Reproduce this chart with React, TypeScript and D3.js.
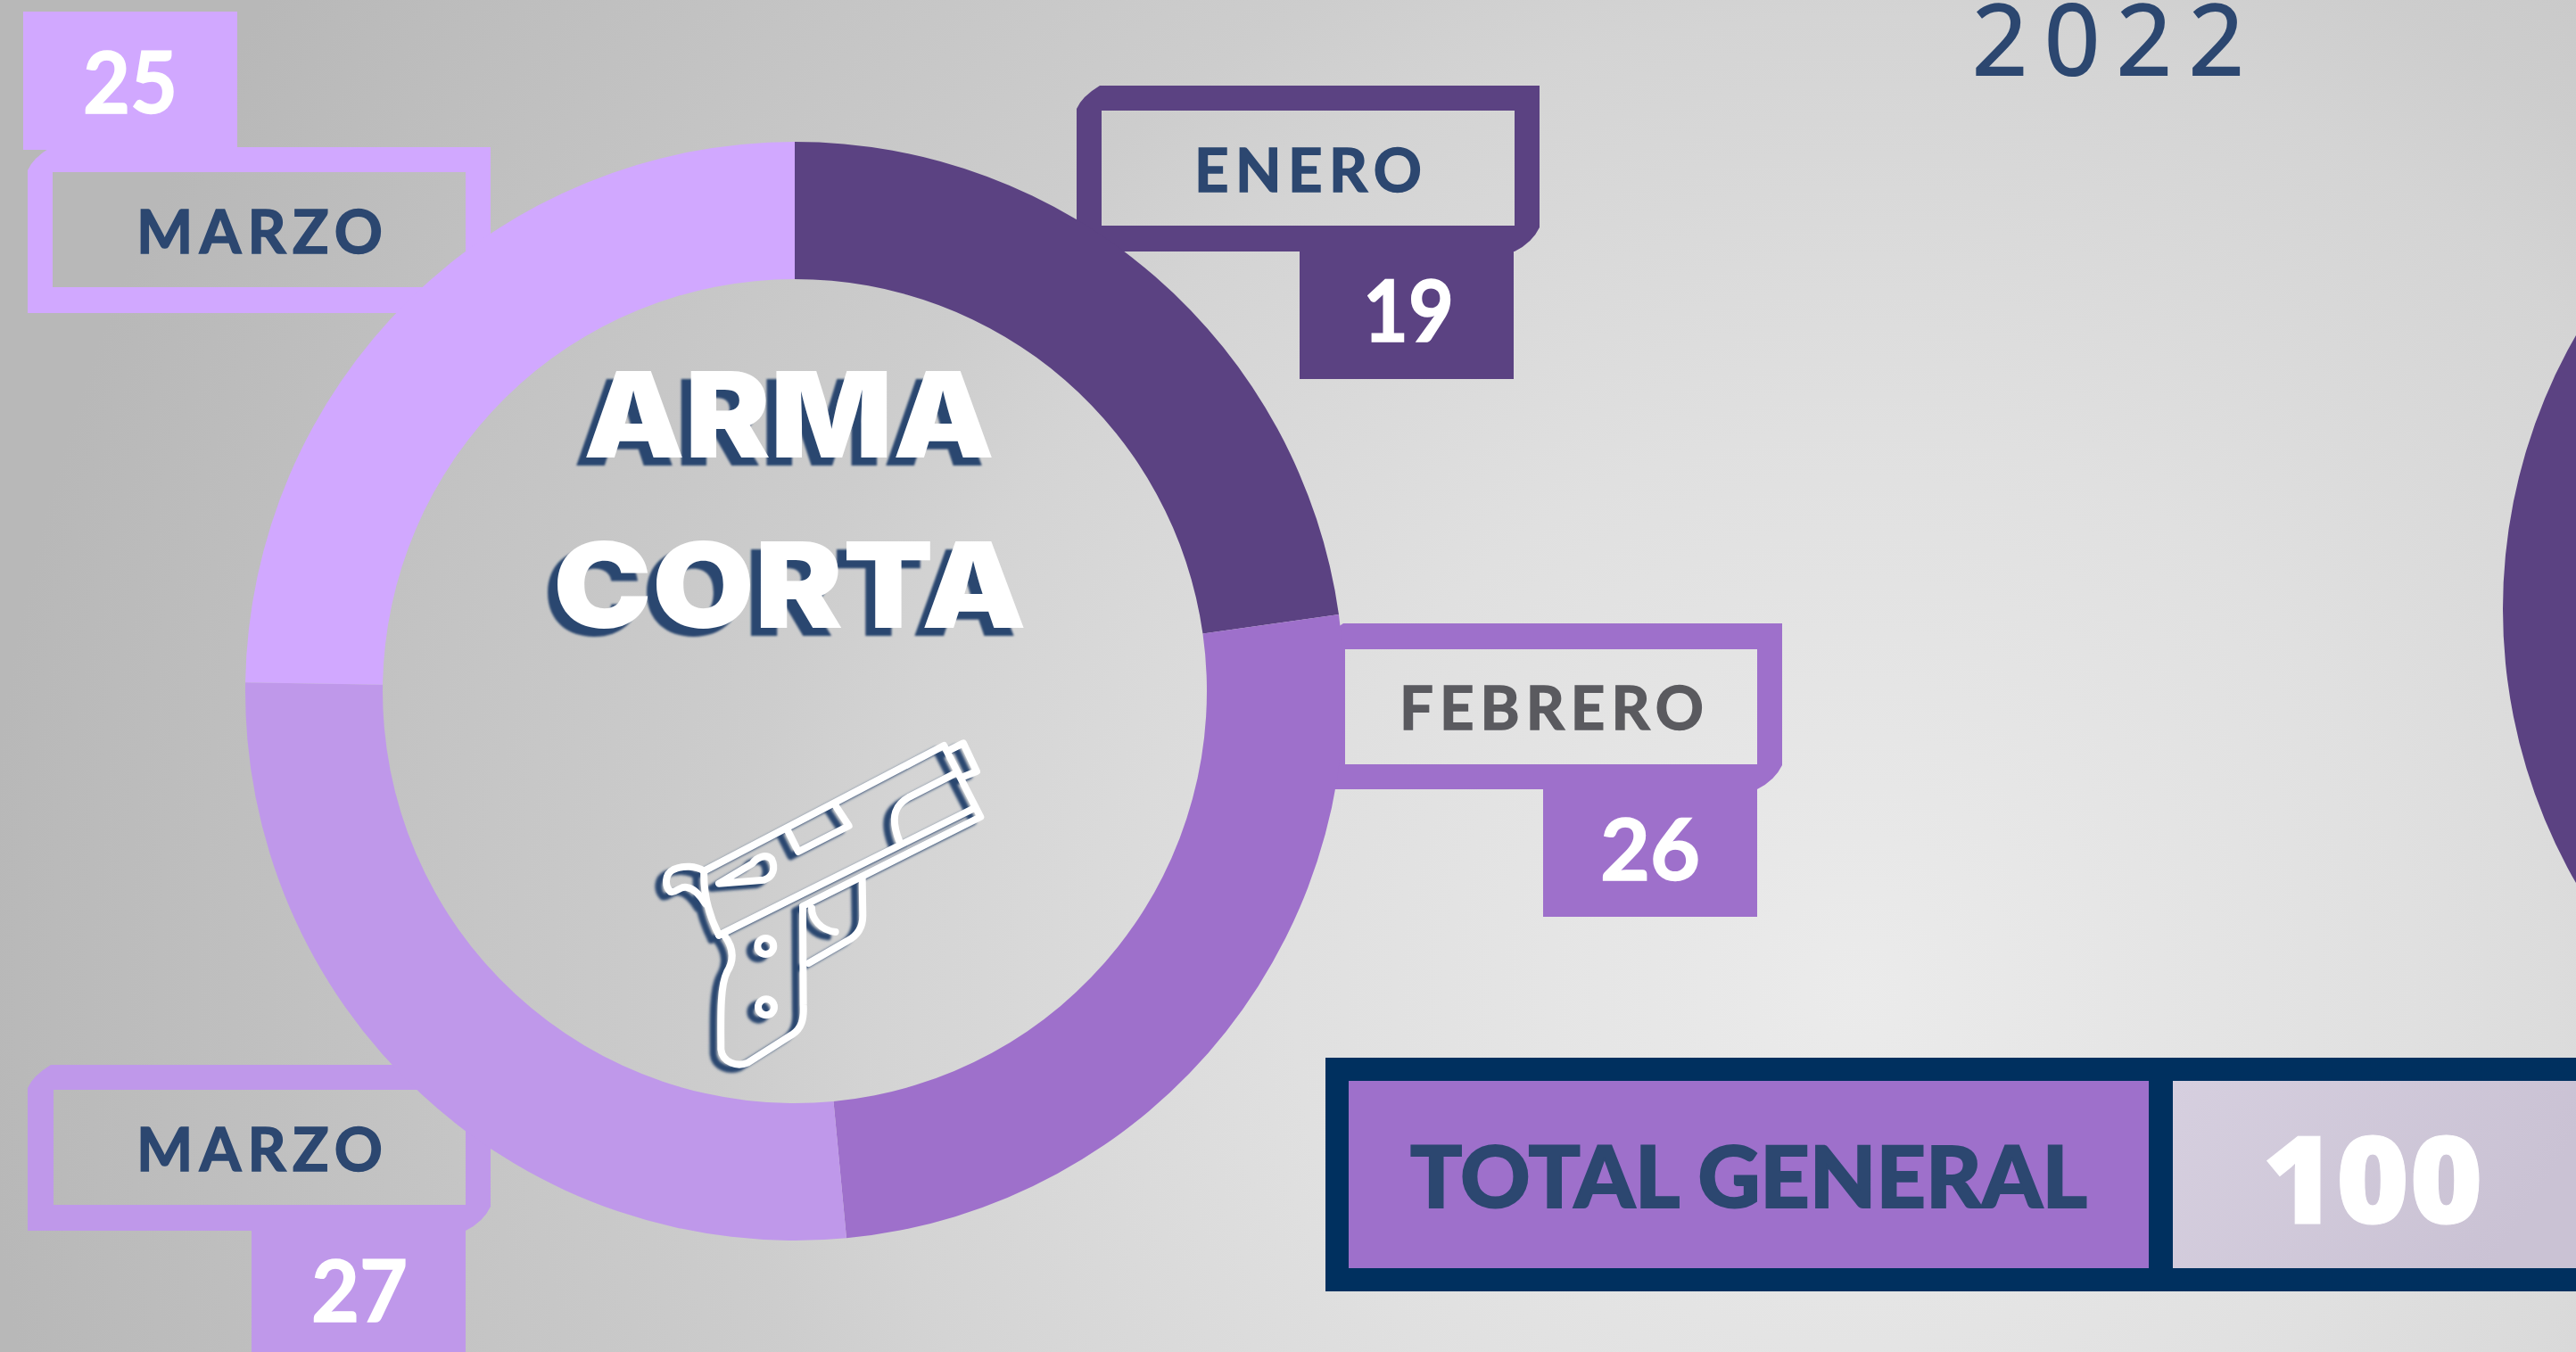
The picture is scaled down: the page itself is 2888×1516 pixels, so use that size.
import * as d3 from "d3";

const WIDTH = 2888;
const HEIGHT = 1516;

// values
const months = ["ENERO", "FEBRERO", "MARZO", "MARZO"];
const sliceShares = [22.77, 25.73, 26.75, 24.75]; // what the ring angles show
const printedValues = ["19", "26", "27", "25"]; // what the boxes say
const sliceColors = ["#5b4282", "#9e70cb", "#bf98ea", "#d1a8ff"];
const monthColors = ["#2c4770", "#5a5a5f", "#2c4770", "#2c4770"];
const titleLines = ["ARMA", "CORTA"];
const yearLabel = "2022";
const totalLabel = "TOTAL GENERAL";
const totalValue = "100";

const NAVY = "#00305f";
const INK = "#2c4770";

// callout frames: outer box, hole, value box, and where the texts sit
const callouts = [
  { outer: [1207, 96, 1726, 282], hole: [1235, 124, 1698, 253], box: [1457, 282, 1697, 425], label: [1339, 215, 255], num: [1528, 383, 102] },
  { outer: [1480, 699, 1998, 885], hole: [1508, 728, 1970, 857], box: [1730, 885, 1970, 1028], label: [1569, 818, 341], num: [1794, 987, 112] },
  { outer: [31, 1194, 550, 1380], hole: [60, 1222, 522, 1351], box: [282, 1380, 522, 1516], label: [153, 1313, 276], num: [349, 1482, 108] },
  { outer: [31, 165, 550, 351], hole: [59, 193, 522, 322], box: [26, 13, 266, 168], label: [153, 284, 276], num: [93, 127, 106] },
];

function framePath(outer: number[], hole: number[]) {
  const [x0, y0, x1, y1] = outer;
  const [a0, b0, a1, b1] = hole;
  return (
    `M${x0} ${y0 + 26} Q${x0 + 6} ${y0 + 12} ${x0 + 26} ${y0} L${x1} ${y0} L${x1} ${y1 - 27} ` +
    `Q${x1 - 8} ${y1 - 10} ${x1 - 28} ${y1} L${x0} ${y1} Z ` +
    `M${a0} ${b0} L${a1} ${b0} L${a1} ${b1} L${a0} ${b1} Z`
  );
}

// pistol outline, traced at 3x from the reference
const gunPaths = [
  "M328 590 L1135 168 L1258 408 L860 608 L660 708",
  "M378 806 L1238 378",
  "M378 806 C345 740 325 670 328 590",
  "M328 590 C300 572 260 570 225 585 C195 600 195 640 215 660 C235 665 245 640 270 645 C300 650 320 680 332 700",
  "M1150 185 L1200 160 L1245 255 L1195 275",
  "M610 455 L645 525 L815 438 L770 370",
  "M1172 262 L1020 340 C975 365 950 400 985 490",
  "M378 632 L530 620 C560 610 570 580 555 550 C535 530 505 545 490 565 Z",
  "M395 805 C430 850 430 890 405 930 C380 980 385 1100 385 1190 C390 1235 440 1250 475 1235 L625 1140 C655 1120 665 1090 662 1040 L660 710",
  "M860 610 L862 740 C862 785 840 810 810 825 L680 900",
  "M690 715 C690 750 720 790 770 795",
];
const gunHoles = [
  [535, 843],
  [537, 1048],
];

function Gun() {
  return (
    <g fill="none" strokeWidth={24} strokeLinecap="round" strokeLinejoin="round">
      {gunPaths.map((d) => <path key={d} d={d} />)}
      {gunHoles.map(([cx, cy]) => <circle key={cy} cx={cx} cy={cy} r={27} />)}
    </g>
  );
}

export default function App() {
  const pie = d3.pie<number>().sort(null).value((d) => d);
  const arc = d3.arc<d3.PieArcDatum<number>>().innerRadius(462).outerRadius(616);
  const slices = pie(sliceShares);

  const otherRing = d3.arc()({ innerRadius: 462, outerRadius: 616, startAngle: Math.PI, endAngle: 2 * Math.PI }) as string;

  const labelFont = { fontFamily: "Lato", fontWeight: 700, fontSize: 67 };
  const numFont = { fontFamily: "Lato", fontWeight: 700, fontSize: 96 };

  return (
    <svg width={WIDTH} height={HEIGHT} style={{ position: "absolute", left: 0, top: 0, display: "block" }}>
      <defs>
        <radialGradient id="bg" gradientUnits="userSpaceOnUse" cx={2080} cy={1110} r={2100}>
          <stop offset="0" stopColor="#ebebeb" />
          <stop offset="0.3" stopColor="#e0e0e0" />
          <stop offset="0.52" stopColor="#d4d4d4" />
          <stop offset="0.6" stopColor="#cdcdcd" />
          <stop offset="1" stopColor="#b8b8b8" />
        </radialGradient>
        <linearGradient id="panel" x1="0" y1="0" x2="1" y2="0.3">
          <stop offset="0" stopColor="#d6cfdf" />
          <stop offset="1" stopColor="#cac2d4" />
        </linearGradient>
        <filter id="soft" x="-5%" y="-5%" width="110%" height="110%">
          <feGaussianBlur stdDeviation="1.2" />
        </filter>
        <filter id="softGun" x="-5%" y="-5%" width="110%" height="110%">
          <feGaussianBlur stdDeviation="5" />
        </filter>
      </defs>
      <rect width={WIDTH} height={HEIGHT} fill="url(#bg)" />

      {callouts.map((c, i) => (
        <g key={i} fill={sliceColors[i]}>
          <path d={framePath(c.outer, c.hole)} fillRule="evenodd" />
          <rect x={c.box[0]} y={c.box[1]} width={c.box[2] - c.box[0]} height={c.box[3] - c.box[1]} />
        </g>
      ))}

      <g transform="translate(891,775)">
        {slices.map((s, i) => <path key={i} d={arc(s) as string} fill={sliceColors[i]} />)}
      </g>
      <path transform="translate(3422,683)" d={otherRing} fill={sliceColors[0]} />

      {callouts.map((c, i) => (
        <g key={i}>
          <text x={c.label[0]} y={c.label[1]} textLength={c.label[2]} lengthAdjust="spacing" fill={monthColors[i]} stroke={monthColors[i]} strokeWidth={1.5} {...labelFont}>
            {months[i]}
          </text>
          <text x={c.num[0]} y={c.num[1]} textLength={c.num[2]} lengthAdjust="spacingAndGlyphs" fill="#fff" stroke="#fff" strokeWidth={1.5} {...numFont}>
            {printedValues[i]}
          </text>
        </g>
      ))}

      {titleLines.map((t, i) => {
        const x = [654, 620][i];
        const y = [513, 704][i];
        const len = [461, 531][i];
        const font = { fontFamily: "Inter", fontWeight: 900, fontSize: 133 };
        return (
          <g key={t}>
            <text x={x - 11} y={y + 9} textLength={len} lengthAdjust="spacingAndGlyphs" fill={INK} filter="url(#soft)" {...font}>{t}</text>
            <text x={x} y={y} textLength={len} lengthAdjust="spacingAndGlyphs" fill="#fff" {...font}>{t}</text>
          </g>
        );
      })}

      <g transform="translate(680,780) scale(0.3333)">
        <g transform="translate(-26,16)" stroke={INK} filter="url(#softGun)"><Gun /></g>
        <g stroke="#fff"><Gun /></g>
      </g>

      <text x={2211} y={84} textLength={305} lengthAdjust="spacing" fill={INK} stroke={INK} strokeWidth={2} fontFamily="Open Sans" fontSize={109}>
        {yearLabel}
      </text>

      <rect x={1486} y={1186} width={WIDTH - 1486} height={262} fill={NAVY} />
      <rect x={1512} y={1212} width={897} height={210} fill={sliceColors[1]} />
      <rect x={2436} y={1212} width={WIDTH - 2436} height={210} fill="url(#panel)" />
      <text x={1581} y={1354} textLength={759} lengthAdjust="spacingAndGlyphs" fill={INK} stroke={INK} strokeWidth={2} fontFamily="Lato" fontWeight={900} fontSize={95}>
        {totalLabel}
      </text>
      <text x={2536} y={1372} textLength={248} lengthAdjust="spacingAndGlyphs" fill="#fff" stroke="#fff" strokeWidth={1} fontFamily="Open Sans" fontWeight={800} fontSize={137}>
        {totalValue}
      </text>
    </svg>
  );
}
